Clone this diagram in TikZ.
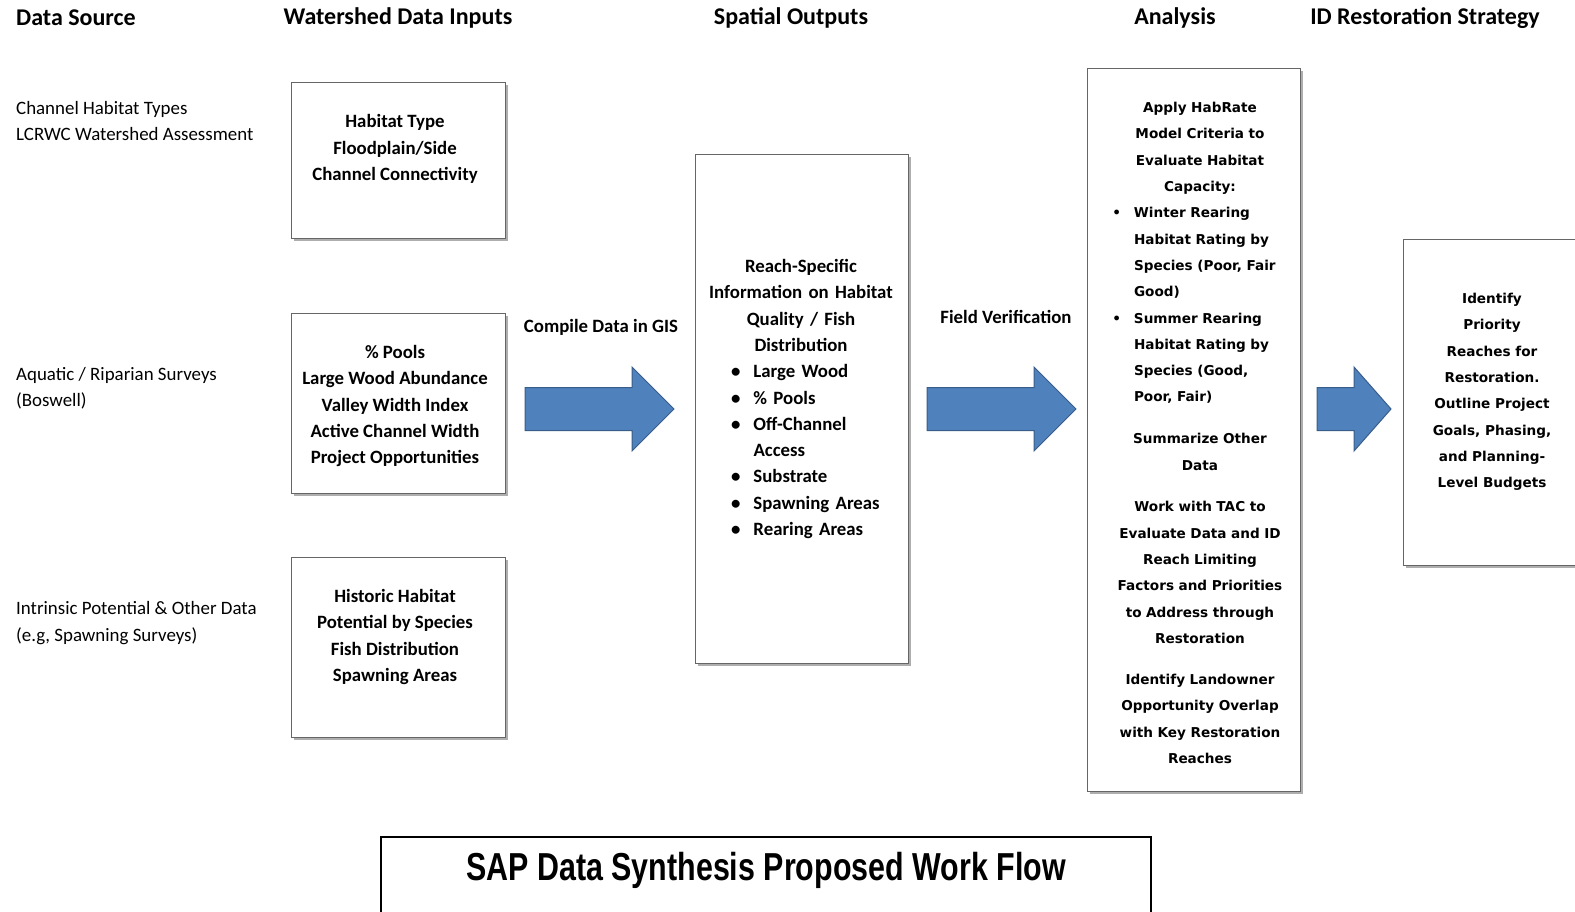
\documentclass[tikz,border=0pt]{standalone}
\usepackage{fontspec}
\setmainfont{Carlito}
\newfontfamily\verdfont{DejaVu Sans}
\newfontfamily\titlefont[FakeStretch=0.78]{Liberation Sans}
\usetikzlibrary{shadows}

\definecolor{arrowblue}{HTML}{4F81BD}
\definecolor{arrowedge}{HTML}{385D8A}

% bullet hanging to the left of the text
\newcommand{\blt}{\makebox[0pt][r]{\textbullet\hspace{13pt}}}
% block arrow: start, shaft length, head length
\newcommand{\bigarrow}[3]{%
  \filldraw[bigarrow] (#1) ++(0,-21.5) -- ++(#2,0) -- ++(0,-20.5) -- ++(#3,42)
    -- ++(-#3,42) -- ++(0,-20.5) -- ++(-#2,0) -- cycle;}

\begin{document}
\begin{tikzpicture}
        [x=1pt,y=-1pt,
         head/.style={font=\fontsize{24}{28}\selectfont\bfseries},
         src/.style={anchor=west,align=left,inner sep=0pt,font=\fontsize{18.9}{26.5}\selectfont},
         box/.style={draw=black!60,line width=1.3pt,fill=white,anchor=north west,
                     drop shadow={shadow xshift=2.5pt,shadow yshift=-2.5pt,fill=black!45,opacity=0.7}},
         boxtext/.style={align=center,inner sep=0pt,font=\fontsize{18.8}{26.3}\selectfont\bfseries},
         verd/.style={inner sep=0pt,font=\fontsize{13.6}{26.3}\selectfont\verdfont\bfseries},
         bigarrow/.style={fill=arrowblue,draw=arrowedge,line width=1pt,line join=miter}]
        \useasboundingbox (0,0) rectangle (1575,911);

        % column heads
        \node[head,anchor=west,inner sep=0pt](h1) at (16,18){Data Source};
        \node[head](h2) at (398,18){Watershed Data Inputs};
        \node[head](h3) at (791,18){Spatial Outputs};
        \node[head](h4) at (1175,18){Analysis};
        \node[head](h5) at (1425,18){ID Restoration Strategy};

        % data sources
        \node[src](s1) at (16,121){Channel Habitat Types\\LCRWC Watershed Assessment};
        \node[src](s2) at (16,388){Aquatic / Riparian Surveys\\(Boswell)};
        \node[src](s3) at (16,623){Intrinsic Potential \& Other Data\\(e.g, Spawning Surveys)};

        % watershed data inputs
        \node[box,minimum width=214,minimum height=156](habitat) at (291,82){};
        \node[boxtext](habitat text) at (395,149){Habitat Type\\Floodplain/Side\\Channel Connectivity};
        \node[box,minimum width=214,minimum height=180](pools) at (291,313){};
        \node[boxtext](pools text) at (395,406){\% Pools\\Large Wood Abundance\\Valley Width Index\\Active Channel Width\\Project Opportunities};
        \node[box,minimum width=214,minimum height=180](historic) at (291,557){};
        \node[boxtext](historic text) at (395,637){Historic Habitat\\Potential by Species\\Fish Distribution\\Spawning Areas};

        % spatial outputs
        \node[box,minimum width=213,minimum height=509](spatial) at (695,154){};
        \node[boxtext,text width=199,align=left](spatial text) at (801,399){%
          {\centering Reach-Specific\\Information on Habitat\\Quality / Fish\\Distribution\par}
          \leftskip=52pt
          \blt Large Wood\par
          \blt\% Pools\par
          \blt Off-Channel\\Access\par
          \blt Substrate\par
          \blt Spawning Areas\par
          \blt Rearing Areas\par};

        % analysis
        \node[box,minimum width=213,minimum height=723](analysis) at (1087,68){};
        \node[verd,text width=190,align=left](analysis text) at (1200,433){%
          {\centering Apply HabRate\\Model Criteria to\\Evaluate Habitat\\Capacity:\par}
          {\leftskip=29pt
          \blt Winter Rearing\\Habitat Rating by\\Species (Poor, Fair\\Good)\par
          \blt Summer Rearing\\Habitat Rating by\\Species (Good,\\Poor, Fair)\par}
          \vspace{15.5pt}
          {\centering Summarize Other\\Data\par}
          \vspace{15.5pt}
          {\centering Work with TAC to\\Evaluate Data and ID\\Reach Limiting\\Factors and Priorities\\to Address through\\Restoration\par}
          \vspace{15pt}
          {\centering Identify Landowner\\Opportunity Overlap\\with Key Restoration\\Reaches\par}};

        % restoration strategy
        \node[box,minimum width=185,minimum height=326](strategy) at (1403,239){};
        \node[verd,align=center](strategy text) at (1492,392){Identify\\Priority\\Reaches for\\Restoration.\\Outline Project\\Goals, Phasing,\\and Planning-\\Level Budgets};

        % block arrows with their labels
        \coordinate (a1) at (525,409);
        \coordinate (a2) at (927,409);
        \coordinate (a3) at (1317,409);
        \bigarrow{a1}{107}{42}
        \bigarrow{a2}{107}{42}
        \bigarrow{a3}{37}{37}
        \node[boxtext](compile) at (601,327){Compile Data in GIS};
        \node[boxtext](field) at (1006,317){Field Verification};

        % title
        \draw[line width=1.3pt](381,930) |- (1151,837) -- (1151,930);
        \node[font=\fontsize{39}{44}\selectfont\titlefont\bfseries](title) at (766,870){SAP Data Synthesis Proposed Work Flow};
\end{tikzpicture}
\end{document}
